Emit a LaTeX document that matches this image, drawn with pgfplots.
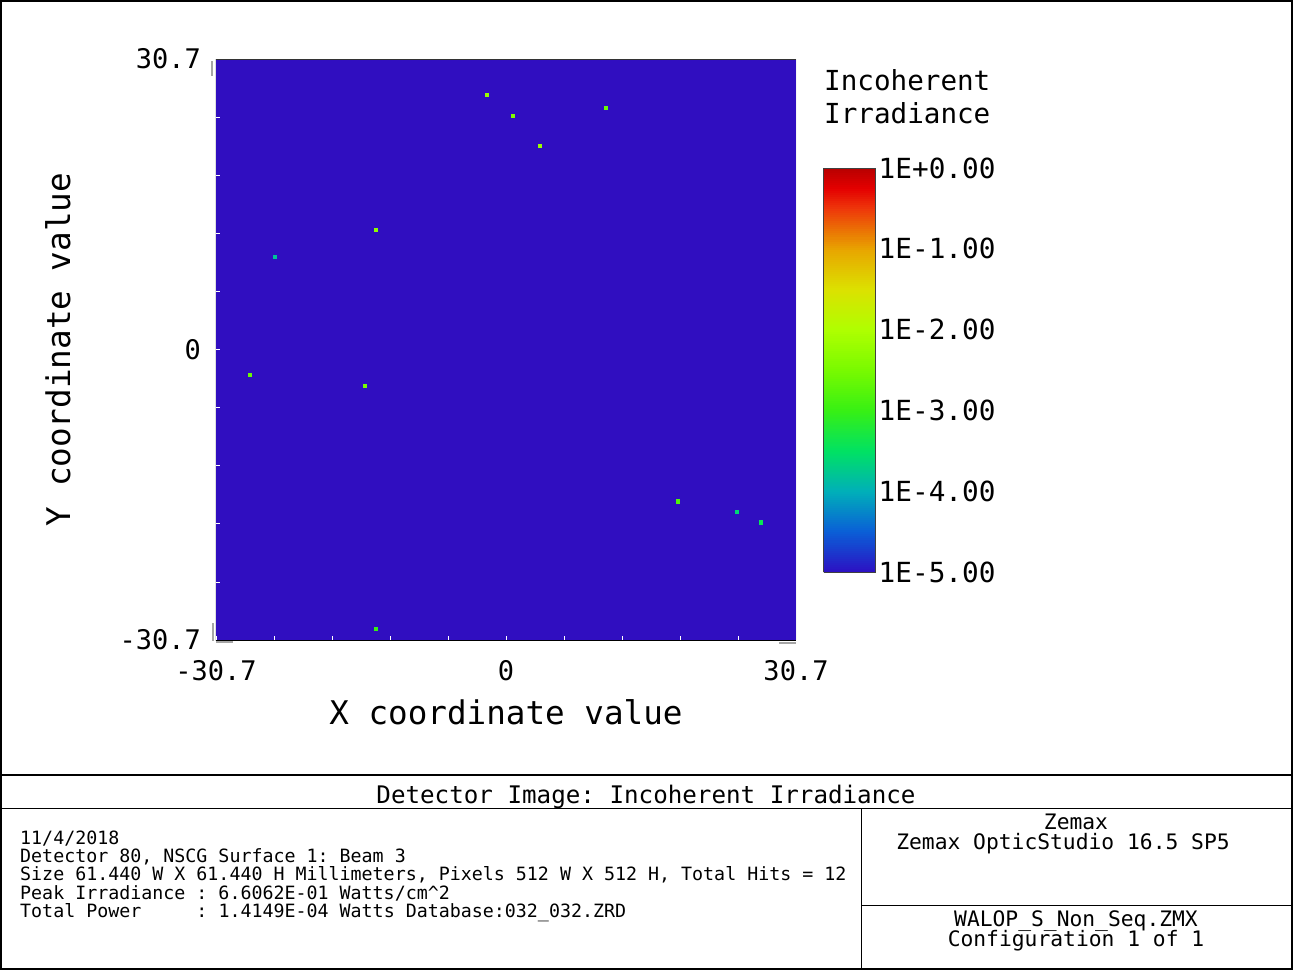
\documentclass[border=0pt]{standalone}
\usepackage{fontspec}
\setmainfont{DejaVu Sans Mono}
\usepackage{pgfplots}
\usepackage{pgfplotstable}
\pgfplotsset{compat=1.18}
\frenchspacing
\definecolor{bgblue}{RGB}{48,14,192}
\pgfplotsset{colormap={zemax}{
  rgb255(0cm)=(45,15,195)
  rgb255(2cm)=(10,95,215)
  rgb255(4cm)=(0,175,185)
  rgb255(6cm)=(0,225,100)
  rgb255(8cm)=(55,240,20)
  rgb255(10cm)=(120,250,0)
  rgb255(12cm)=(175,255,0)
  rgb255(14cm)=(220,225,0)
  rgb255(16cm)=(232,165,0)
  rgb255(18cm)=(238,55,10)
  rgb255(19cm)=(228,0,0)
  rgb255(20cm)=(185,0,0)}}
% detector hits: x (mm), y (mm), log10 relative irradiance
\pgfplotstableread{
x y m
-2.01 26.96 -2.2
0.74 24.73 -2.4
10.59 25.58 -2.6
3.60 21.56 -2.2
-13.77 12.66 -2.3
-24.47 9.80 -3.8
-27.12 -2.70 -2.6
-14.94 -3.86 -2.5
18.22 -16.05 -2.8
24.47 -17.11 -3.6
27.01 -18.27 -3.4
-13.77 -29.50 -3.0
}\hits
\begin{document}
\begin{tikzpicture}[x=1pt,y=1pt]
\path[use as bounding box] (0,0) rectangle (1293,-970);
\begin{axis}[
  scale only axis, width=580pt, height=581pt,
  at={(216pt,-640pt)}, anchor=south west,
  xmin=-30.72, xmax=30.72, ymin=-30.72, ymax=30.72,
  axis background/.style={fill=bgblue},
  axis line style={draw=none},
  colormap name=zemax,
  point meta min=-5, point meta max=0,
  xtick={-30.72,0,30.72}, xticklabels={-30.7,0,30.7},
  ytick={-30.72,0,30.72}, yticklabels={-30.7,0,30.7},
  minor xtick={-24.576,-18.432,-12.288,-6.144,6.144,12.288,18.432,24.576},
  minor ytick={-24.576,-18.432,-12.288,-6.144,6.144,12.288,18.432,24.576},
  tick align=inside, tick pos=left,
  major tick length=4pt, minor tick length=4pt,
  every tick/.style={white, line width=0.8pt},
  every minor tick/.style={white, line width=0.8pt},
  xticklabel style={font=\fontsize{27}{27}\selectfont, anchor=center, yshift=-31pt},
  yticklabel style={font=\fontsize{27}{27}\selectfont, anchor=east, inner sep=0pt, xshift=-15pt},
  xlabel={X coordinate value},
  ylabel={Y coordinate value},
  xlabel style={font=\fontsize{32.6}{33}\selectfont, at={(axis description cs:0.5,-0.1239)}, anchor=center},
  ylabel style={font=\fontsize{32.6}{33}\selectfont, at={(axis description cs:-0.2724,0.5)}, anchor=center},
  colorbar sampled,
  colorbar style={
    scale only axis, width=52pt, height=404pt,
    samples=201,
    at={(parent axis.north east)}, anchor=north west,
    xshift=19pt, yshift=-109pt,
    ytick={-5,-4,-3,-2,-1,0},
    yticklabels={1E-5.00,1E-4.00,1E-3.00,1E-2.00,1E-1.00,1E+0.00},
    yticklabel style={font=\fontsize{27.7}{28}\selectfont, anchor=west, inner sep=0pt, xshift=3pt},
    major tick length=0pt, minor tick num=0,
    axis line style={draw=black!75, line width=0.8pt},
  },
]
\addplot[scatter, only marks, mark=square*, mark size=1.6pt, point meta=explicit,
  scatter/use mapped color={draw=mapped color, fill=mapped color}]
  table[x=x, y=y, meta=m] {\hits};
\draw[black!80, line width=0.8pt] (rel axis cs:0,1) -- (rel axis cs:1,1);
\draw[gray!60, line width=1pt] (rel axis cs:1,1) -- (rel axis cs:1,0);
\draw[black, line width=3pt] ([xshift=-1.5pt]rel axis cs:0,1) -- ([xshift=-1.5pt,yshift=-1.5pt]rel axis cs:0,0) -- ([yshift=-1.5pt]rel axis cs:1,0);
\end{axis}
% small grey corner marks
\draw[gray!70, line width=2.5pt] (212,-61) -- (212,-76);
\draw[gray!70, line width=2.5pt] (213,-623) -- (213,-641);
\draw[gray!70, line width=2pt] (216,-642) -- (233,-642);
\draw[gray!70, line width=2pt] (779,-643) -- (796,-643);
% colorbar title
\node[anchor=base west, inner sep=0pt, font=\fontsize{27.6}{28}\selectfont] at (824,-90) {Incoherent};
\node[anchor=base west, inner sep=0pt, font=\fontsize{27.6}{28}\selectfont] at (824,-123) {Irradiance};
% frame
\draw[line width=2pt] (1,-1) rectangle (1292,-969);
\draw[line width=2pt] (1,-775) -- (1292,-775);
\draw[line width=1pt] (1,-808) -- (1292,-808);
\draw[line width=1pt] (861,-808) -- (861,-969);
\draw[line width=1pt] (861,-905) -- (1292,-905);
\node[anchor=base, inner sep=0pt, font=\fontsize{24.2}{25}\selectfont] at (646,-803) {Detector Image: Incoherent Irradiance};
\begin{scope}[every node/.style={anchor=base west, inner sep=0pt, font=\fontsize{18.3}{18.3}\selectfont}]
\node at (20,-844) {11/4/2018};
\node at (20,-862) {Detector 80, NSCG Surface 1: Beam 3};
\node at (20,-880) {Size 61.440 W X 61.440 H Millimeters, Pixels 512 W X 512 H, Total Hits = 12};
\node at (20,-899) {Peak Irradiance : 6.6062E-01 Watts/cm\textasciicircum 2};
\node at (20,-917) {Total Power\phantom{xxxx} : 1.4149E-04 Watts Database:032\_032.ZRD};
\end{scope}
\begin{scope}[every node/.style={anchor=base, inner sep=0pt, font=\fontsize{21.3}{21.3}\selectfont}]
\node at (1076,-829) {Zemax};
\node at (1063,-849) {Zemax OpticStudio 16.5 SP5};
\node at (1076,-926) {WALOP\_S\_Non\_Seq.ZMX};
\node at (1076,-946) {Configuration 1 of 1};
\end{scope}
\end{tikzpicture}
\end{document}
